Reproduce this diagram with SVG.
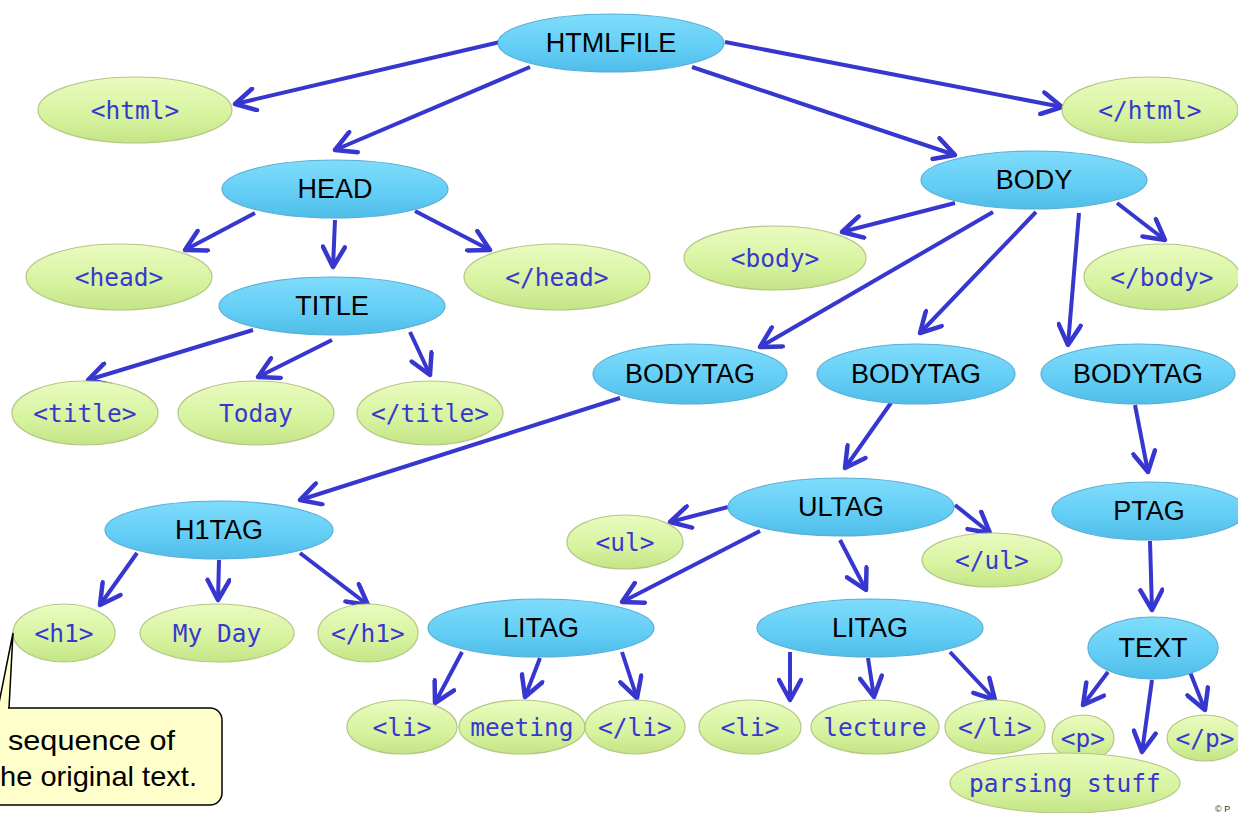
<svg xmlns="http://www.w3.org/2000/svg" width="1238" height="813" viewBox="0 0 1238 813">
<defs>
<linearGradient id="gb" x1="0" y1="0" x2="0" y2="1">
<stop offset="0" stop-color="#7fdcfb"/>
<stop offset="0.6" stop-color="#62cdf5"/>
<stop offset="1" stop-color="#4fbde8"/>
</linearGradient>
<linearGradient id="gg" x1="0" y1="0" x2="0" y2="1">
<stop offset="0" stop-color="#eafbc0"/>
<stop offset="0.6" stop-color="#d6f39e"/>
<stop offset="1" stop-color="#c4e486"/>
</linearGradient>
<marker id="ah" viewBox="0 0 26 26" markerWidth="26" markerHeight="26" refX="23" refY="13" orient="auto" markerUnits="userSpaceOnUse">
<path d="M3,2 L23,13 L3,24" fill="none" stroke="#3737cf" stroke-width="4.5" stroke-linecap="round" stroke-linejoin="round"/>
</marker>
</defs>
<style>
.b ellipse{fill:url(#gb);stroke:#5aaed6;stroke-width:1.2}
.g ellipse{fill:url(#gg);stroke:#b4c684;stroke-width:1.2}
.b text{font-family:"Liberation Sans",Arial,sans-serif;font-size:27px;fill:#000;text-anchor:middle}
.g text{font-family:"DejaVu Sans Mono","Liberation Mono",monospace;font-size:24.5px;fill:#3838d0;text-anchor:middle}
#edges line{stroke:#3737cf;stroke-width:4;marker-end:url(#ah)}
.note{font-family:"Liberation Sans",Arial,sans-serif;font-size:28px;fill:#000}
</style>
<rect width="1238" height="813" fill="#fff"/>

<g id="edges">
<line x1="500" y1="42" x2="235" y2="104"/>
<line x1="530" y1="67" x2="335" y2="150"/>
<line x1="692" y1="67" x2="955" y2="155"/>
<line x1="725" y1="42" x2="1062" y2="107"/>
<line x1="255" y1="213" x2="185" y2="250"/>
<line x1="335" y1="220" x2="333" y2="267"/>
<line x1="415" y1="211" x2="490" y2="250"/>
<line x1="253" y1="330" x2="88" y2="380"/>
<line x1="332" y1="340" x2="258" y2="377"/>
<line x1="410" y1="332" x2="430" y2="375"/>
<line x1="955" y1="203" x2="842" y2="232"/>
<line x1="993" y1="212" x2="760" y2="347"/>
<line x1="1036" y1="212" x2="920" y2="333"/>
<line x1="1079" y1="213" x2="1068" y2="345"/>
<line x1="1117" y1="203" x2="1165" y2="240"/>
<line x1="620" y1="398" x2="300" y2="500"/>
<line x1="893" y1="400" x2="845" y2="468"/>
<line x1="1135" y1="405" x2="1148" y2="472"/>
<line x1="137" y1="553" x2="100" y2="605"/>
<line x1="219" y1="560" x2="218" y2="600"/>
<line x1="300" y1="553" x2="368" y2="605"/>
<line x1="728" y1="507" x2="670" y2="522"/>
<line x1="760" y1="531" x2="622" y2="602"/>
<line x1="840" y1="540" x2="866" y2="590"/>
<line x1="955" y1="505" x2="990" y2="533"/>
<line x1="1150" y1="541" x2="1152" y2="610"/>
<line x1="462" y1="652" x2="435" y2="703"/>
<line x1="540" y1="658" x2="525" y2="697"/>
<line x1="622" y1="652" x2="637" y2="698"/>
<line x1="790" y1="652" x2="790" y2="700"/>
<line x1="868" y1="658" x2="874" y2="697"/>
<line x1="950" y1="652" x2="995" y2="700"/>
<line x1="1108" y1="672" x2="1083" y2="705"/>
<line x1="1152" y1="680" x2="1142" y2="752"/>
<line x1="1190" y1="672" x2="1205" y2="710"/>
</g>

<g id="n-htmlfile" class="b"><ellipse cx="611" cy="43" rx="113" ry="29"/><text x="611" y="52">HTMLFILE</text></g>
<g id="n-head" class="b"><ellipse cx="335" cy="189" rx="113" ry="29"/><text x="335" y="198">HEAD</text></g>
<g id="n-body" class="b"><ellipse cx="1034" cy="180" rx="113" ry="29"/><text x="1034" y="189">BODY</text></g>
<g id="n-title" class="b"><ellipse cx="332" cy="306" rx="113" ry="29"/><text x="332" y="315">TITLE</text></g>
<g id="n-bodytag1" class="b"><ellipse cx="690" cy="374" rx="97" ry="30"/><text x="690" y="383">BODYTAG</text></g>
<g id="n-bodytag2" class="b"><ellipse cx="916" cy="374" rx="99" ry="30"/><text x="916" y="383">BODYTAG</text></g>
<g id="n-bodytag3" class="b"><ellipse cx="1138" cy="374" rx="97" ry="30"/><text x="1138" y="383">BODYTAG</text></g>
<g id="n-h1tag" class="b"><ellipse cx="219" cy="530" rx="114" ry="29"/><text x="219" y="539">H1TAG</text></g>
<g id="n-ultag" class="b"><ellipse cx="841" cy="507" rx="113" ry="29"/><text x="841" y="516">ULTAG</text></g>
<g id="n-ptag" class="b"><ellipse cx="1149" cy="511" rx="97" ry="29"/><text x="1149" y="520">PTAG</text></g>
<g id="n-litag1" class="b"><ellipse cx="541" cy="628" rx="113" ry="29"/><text x="541" y="637">LITAG</text></g>
<g id="n-litag2" class="b"><ellipse cx="870" cy="628" rx="113" ry="29"/><text x="870" y="637">LITAG</text></g>
<g id="n-text" class="b"><ellipse cx="1153" cy="648" rx="65" ry="31"/><text x="1153" y="657">TEXT</text></g>

<g id="t-html" class="g"><ellipse cx="135" cy="110" rx="97" ry="33"/><text x="135" y="119">&lt;html&gt;</text></g>
<g id="t-html-end" class="g"><ellipse cx="1150" cy="110" rx="88" ry="33"/><text x="1150" y="119">&lt;/html&gt;</text></g>
<g id="t-head" class="g"><ellipse cx="119" cy="277" rx="93" ry="33"/><text x="119" y="286">&lt;head&gt;</text></g>
<g id="t-head-end" class="g"><ellipse cx="557" cy="277" rx="93" ry="33"/><text x="557" y="286">&lt;/head&gt;</text></g>
<g id="t-body" class="g"><ellipse cx="775" cy="258" rx="91" ry="32"/><text x="775" y="267">&lt;body&gt;</text></g>
<g id="t-body-end" class="g"><ellipse cx="1162" cy="277" rx="78" ry="33"/><text x="1162" y="286">&lt;/body&gt;</text></g>
<g id="t-title" class="g"><ellipse cx="85" cy="413" rx="73" ry="32"/><text x="85" y="422">&lt;title&gt;</text></g>
<g id="t-today" class="g"><ellipse cx="256" cy="413" rx="78" ry="32"/><text x="256" y="422">Today</text></g>
<g id="t-title-end" class="g"><ellipse cx="430" cy="413" rx="73" ry="32"/><text x="430" y="422">&lt;/title&gt;</text></g>
<g id="t-ul" class="g"><ellipse cx="625" cy="542" rx="58" ry="27"/><text x="625" y="551">&lt;ul&gt;</text></g>
<g id="t-ul-end" class="g"><ellipse cx="992" cy="560" rx="70" ry="27"/><text x="992" y="569">&lt;/ul&gt;</text></g>
<g id="t-h1" class="g"><ellipse cx="64" cy="633" rx="51" ry="29"/><text x="64" y="642">&lt;h1&gt;</text></g>
<g id="t-myday" class="g"><ellipse cx="217" cy="633" rx="77" ry="29"/><text x="217" y="642">My Day</text></g>
<g id="t-h1-end" class="g"><ellipse cx="368" cy="633" rx="50" ry="29"/><text x="368" y="642">&lt;/h1&gt;</text></g>
<g id="t-li1" class="g"><ellipse cx="402" cy="727" rx="55" ry="27"/><text x="402" y="736">&lt;li&gt;</text></g>
<g id="t-meeting" class="g"><ellipse cx="522" cy="727" rx="63" ry="27"/><text x="522" y="736">meeting</text></g>
<g id="t-li1-end" class="g"><ellipse cx="635" cy="727" rx="50" ry="27"/><text x="635" y="736">&lt;/li&gt;</text></g>
<g id="t-li2" class="g"><ellipse cx="750" cy="727" rx="51" ry="27"/><text x="750" y="736">&lt;li&gt;</text></g>
<g id="t-lecture" class="g"><ellipse cx="875" cy="727" rx="64" ry="27"/><text x="875" y="736">lecture</text></g>
<g id="t-li2-end" class="g"><ellipse cx="995" cy="727" rx="50" ry="27"/><text x="995" y="736">&lt;/li&gt;</text></g>
<g id="t-p" class="g"><ellipse cx="1083" cy="738" rx="31" ry="23"/><text x="1083" y="747">&lt;p&gt;</text></g>
<g id="t-p-end" class="g"><ellipse cx="1205" cy="738" rx="38" ry="23"/><text x="1205" y="747">&lt;/p&gt;</text></g>
<g id="t-parsing" class="g"><ellipse cx="1065" cy="783" rx="115" ry="30"/><text x="1065" y="792">parsing stuff</text></g>

<g id="callout">
<polygon points="-2,708 13,633 9,708" fill="#ffffcc" stroke="#000" stroke-width="1.5"/>
<rect x="-20" y="708" width="242" height="97" rx="12" fill="#ffffcc" stroke="#000" stroke-width="1.5"/>
<rect x="0" y="705" width="8" height="6" fill="#ffffcc"/>
<text class="note" x="8" y="750" textLength="167" lengthAdjust="spacingAndGlyphs">sequence of</text>
<text class="note" x="0" y="786" textLength="197" lengthAdjust="spacingAndGlyphs">he original text.</text>
</g>
<text x="1215" y="812" font-family="Liberation Sans,Arial,sans-serif" font-size="9" fill="#333">© P</text>
</svg>
